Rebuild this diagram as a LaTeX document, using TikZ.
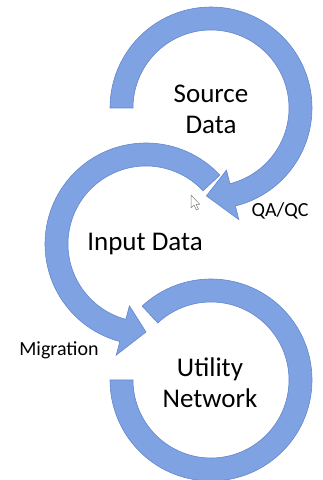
\documentclass[tikz,border=0pt]{standalone}
\usepackage{fontspec}
\setmainfont{Carlito}
\definecolor{ringblue}{RGB}{126,162,226}
\definecolor{ringedge}{RGB}{100,134,204}
\tikzset{
  ring/.style={fill=ringblue, draw=ringedge, line width=0.6pt, line join=miter},
  bigtext/.style={align=center, font=\fontsize{27}{31}\selectfont},
  smalltext/.style={font=\fontsize{20}{23}\selectfont}
}

\begin{document}
\begin{tikzpicture}[x=1pt,y=1pt]
\useasboundingbox (0,0) rectangle (323,480);

\coordinate (ctop) at (211,372);
\coordinate (cmid) at (146,236);
\coordinate (cbot) at (211,100);

% Utility Network ring
\filldraw[ring] ([shift={(133:101pt)}]cbot) arc[start angle=133, end angle=-180, radius=101pt]
  -- ([shift={(180:78pt)}]cbot) arc[start angle=-180, end angle=133, radius=78pt] -- cycle;

% Input Data -> Utility Network
\filldraw[ring] ([shift={(43:101pt)}]cmid) arc[start angle=43, end angle=255, radius=101pt]
  -- ([shift={(255:115pt)}]cmid) -- ([shift={(270:88pt)}]cmid) -- ([shift={(255:64pt)}]cmid)
  -- ([shift={(255:78pt)}]cmid) arc[start angle=255, end angle=43, radius=78pt] -- cycle;

% Source Data -> Input Data
\filldraw[ring] ([shift={(180:101pt)}]ctop) arc[start angle=180, end angle=-76, radius=101pt]
  -- ([shift={(-76:115pt)}]ctop) -- ([shift={(-93:88pt)}]ctop) -- ([shift={(-76:64pt)}]ctop)
  -- ([shift={(-76:78pt)}]ctop) arc[start angle=-76, end angle=180, radius=78pt] -- cycle;

\node[bigtext] (source) at (211,371) {Source\\Data};
\node[bigtext] (input) at (145,236) {Input Data};
\node[bigtext] (utility) at (210,97) {Utility\\Network};
\node[smalltext] (qaqc) at (280,269) {QA/QC};
\node[smalltext] (migration) at (59,130) {Migration};

% mouse pointer
\draw[gray, fill=white, line width=0.5pt, line join=round] (191,285) -- (191,272) -- (194,275)
  -- (196.5,270) -- (198.5,271) -- (196,275.5) -- (200,275.5) -- cycle;
\end{tikzpicture}
\end{document}
